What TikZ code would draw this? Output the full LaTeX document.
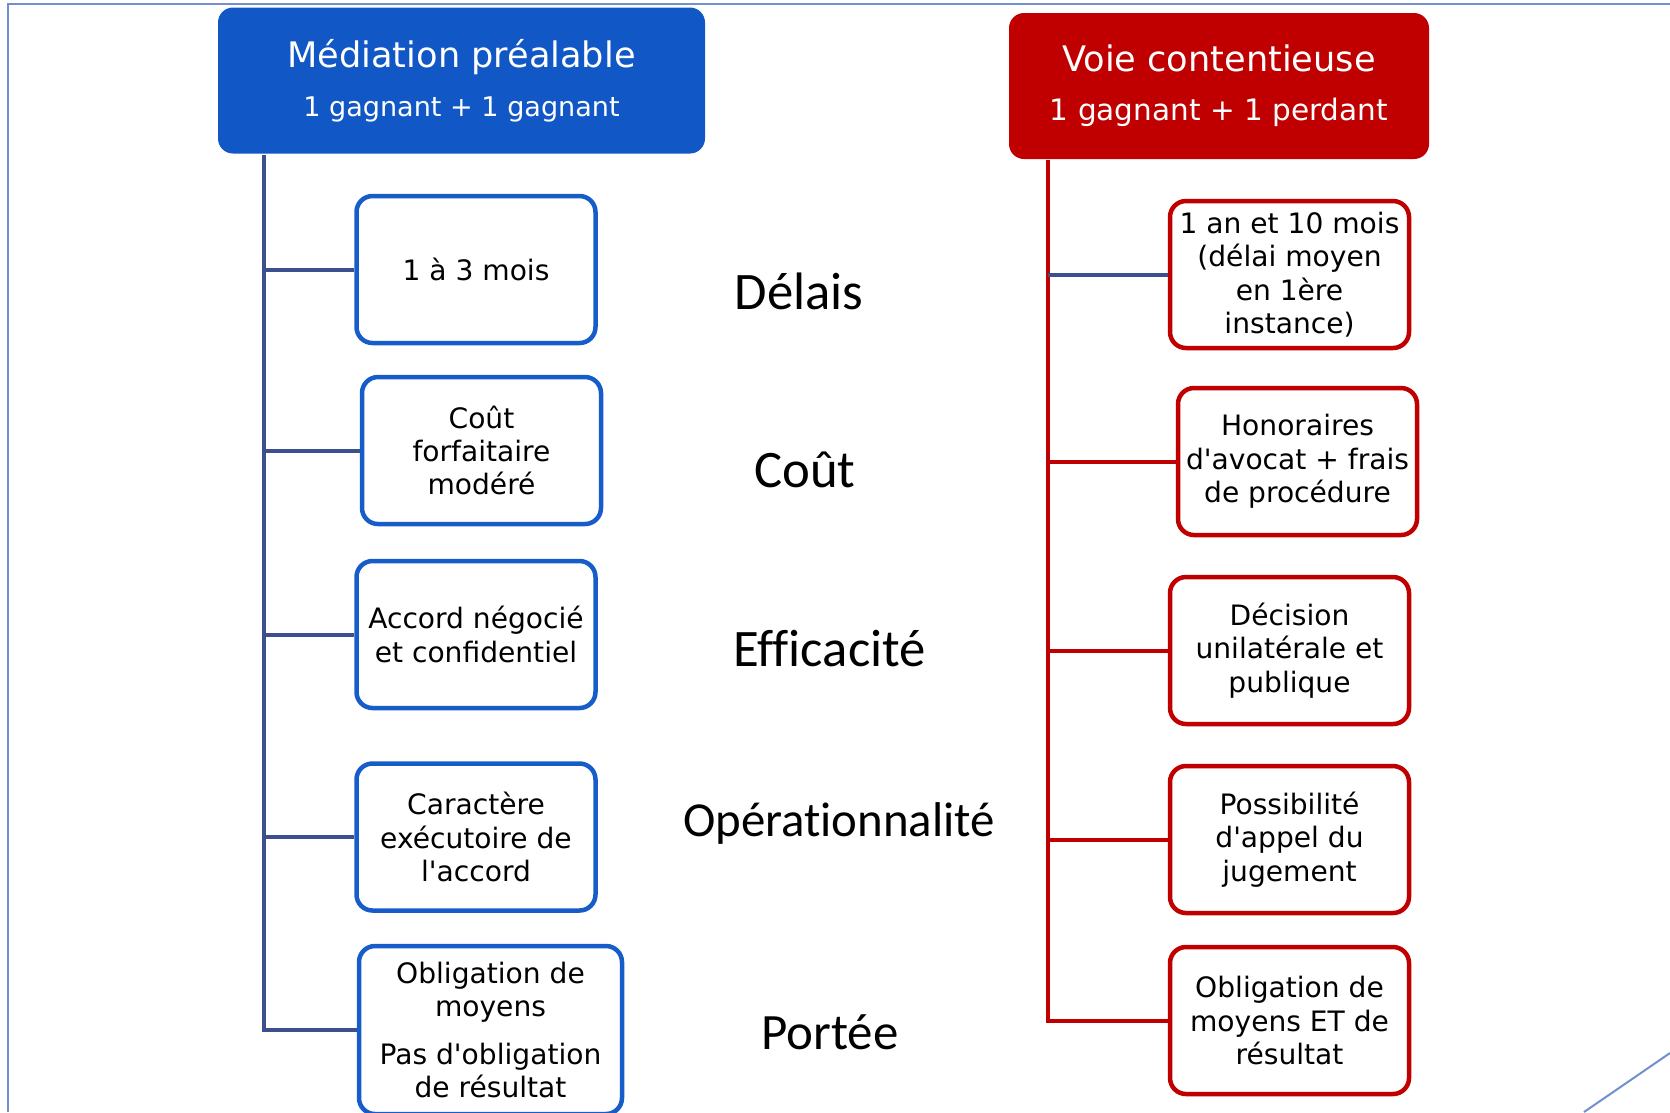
\documentclass[tikz,border=0pt]{standalone}
\usepackage{fontspec}
\newfontfamily\boxfont{DejaVu Sans}
\newfontfamily\topicfont{Carlito}[Ligatures=NoCommon]
\usetikzlibrary{positioning}
\definecolor{medblue}{RGB}{17,87,197}
\definecolor{boxblue}{RGB}{22,93,201}
\definecolor{linkblue}{RGB}{59,80,140}
\definecolor{voiered}{RGB}{192,0,0}
\definecolor{framecol}{RGB}{114,143,206}

\begin{document}
\begin{tikzpicture}[x=0.1mm,y=-0.1mm,thick,node distance=18.5mm,
    head node/.style={rounded corners=1.5mm,minimum height=14.6mm,inner sep=0pt,align=center,text=white,font=\boxfont\fontsize{10}{14}\selectfont},
    main node/.style={draw,line width=0.45mm,rounded corners=1.6mm,fill=white,minimum width=23.9mm,minimum height=14.7mm,inner sep=0pt,align=center,font=\boxfont\fontsize{8}{9.5}\selectfont},
    topic node/.style={anchor=base,font=\topicfont\fontsize{15}{18}\selectfont},
    link/.style={draw,line width=0.4mm,linkblue}]
            \useasboundingbox (0,0) rectangle (1670,1112);
            \draw[framecol,line width=0.2mm] (8,1112) -- (8,4) -- (1670,4);
            \draw[framecol,line width=0.2mm] (1584,1112) -- (1670,1053);

            \node[head node,fill=medblue,minimum width=48.7mm] (m) at (461.5,80.5) {Médiation préalable\\{\fontsize{7.7}{14}\selectfont 1 gagnant + 1 gagnant}};
            \node[head node,fill=voiered,minimum width=42mm] (v) at (1219,86) {Voie contentieuse\\{\fontsize{8.4}{14}\selectfont 1 gagnant + 1 perdant}};

            \node[main node,draw=boxblue] (1) at (476,269.5) {1 à 3 mois};
            \node[main node,draw=boxblue] (2) [below of = 1, xshift=0.55mm, yshift=0.4mm] {Coût\\forfaitaire\\modéré};
            \node[main node,draw=boxblue] (3) [below of = 2, xshift=-0.55mm, yshift=0.1mm] {Accord négocié\\et confidentiel};
            \node[main node,draw=boxblue] (4) [below of = 3, yshift=-1.75mm] {Caractère\\exécutoire de\\l'accord};
            \node[main node,draw=boxblue,minimum width=26.3mm,minimum height=16.8mm] (5) [below of = 4, xshift=1.45mm, yshift=-0.8mm] {Obligation de\\moyens\\[4pt]Pas d'obligation\\de résultat};

            \node[main node,draw=voiered] (a) at (1289.5,274.5) {1 an et 10 mois\\(délai moyen\\en 1ère\\instance)};
            \node[main node,draw=voiered] (b) [below of = a, xshift=0.8mm, yshift=-0.2mm] {Honoraires\\d'avocat + frais\\de procédure};
            \node[main node,draw=voiered] (c) [below of = b, xshift=-0.8mm, yshift=-0.4mm] {Décision\\unilatérale et\\publique};
            \node[main node,draw=voiered] (d) [below of = c, yshift=-0.4mm] {Possibilité\\d'appel du\\jugement};
            \node[main node,draw=voiered] (e) [below of = d, yshift=0.4mm] {Obligation de\\moyens ET de\\résultat};

            \node[topic node] (t1) at (799,309) {Délais};
            \node[topic node] (t2) at (805,487) {Coût};
            \node[topic node] (t3) at (829.5,666) {Efficacité};
            \node[topic node,font=\topicfont\fontsize{13.9}{16}\selectfont] (t4) at (839,836) {Opérationnalité};
            \node[topic node,font=\topicfont\fontsize{14.5}{17}\selectfont] (t5) at (830,1049) {Portée};

            \coordinate (mtop) at ([xshift=4.7mm]m.south west);
            \coordinate (vtop) at ([xshift=4mm]v.south west);

            \draw[link] (mtop) |- (5.west);
            \path
                (mtop |- 1.west) edge[link] (1.west)
                (mtop |- 2.west) edge[link] (2.west)
                (mtop |- 3.west) edge[link] (3.west)
                (mtop |- 4.west) edge[link] (4.west)
                ;

            \draw[link,voiered] (vtop) |- (e.west);
            \path
                (vtop |- a.west) edge[link] (a.west)
                (vtop |- b.west) edge[link,voiered] (b.west)
                (vtop |- c.west) edge[link,voiered] (c.west)
                (vtop |- d.west) edge[link,voiered] (d.west)
                ;
        \end{tikzpicture}
\end{document}
